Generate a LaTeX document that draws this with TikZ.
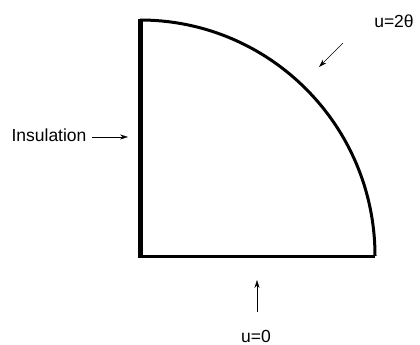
\documentclass[tikz,border=0pt]{standalone}
\usepackage{fontspec}
\setmainfont{Liberation Sans}
\usetikzlibrary{arrows.meta}
\begin{document}
\begin{tikzpicture}[x=1pt, y=-1pt, font=\fontsize{17.5}{20}\selectfont, line join=round, >={Stealth[length=8pt,width=5pt]}]
	\useasboundingbox (0,0) rectangle (420,345);
	\coordinate (O) at (140,256);
	\coordinate (T) at (140,20);
	\coordinate (R) at (375,256);
	% boundary
	\draw[line width=5pt] (140,19) -- (140,258);
	\draw[line width=3pt] (O) -- (R);
	\draw[line width=3pt] (T) arc [start angle=90, end angle=0, x radius=235, y radius=-236];
	% labels
	\node[inner sep=0pt] (ins) at (49,135) {Insulation};
	\coordinate (insTip) at (128,137);
	\draw[->, thin] (92,137) -- (insTip);
	\node[inner sep=0pt] (top) at (394,21) {u=2θ};
	\coordinate (topA) at (343,43);
	\coordinate (topB) at (319,67);
	\draw[->, thin] (topA) -- (topB);
	\node[inner sep=0pt] (bot) at (256,336) {u=0};
	\coordinate (botA) at (257,312);
	\coordinate (botB) at (257,280);
	\draw[->, thin] (botA) -- (botB);
\end{tikzpicture}
\end{document}
